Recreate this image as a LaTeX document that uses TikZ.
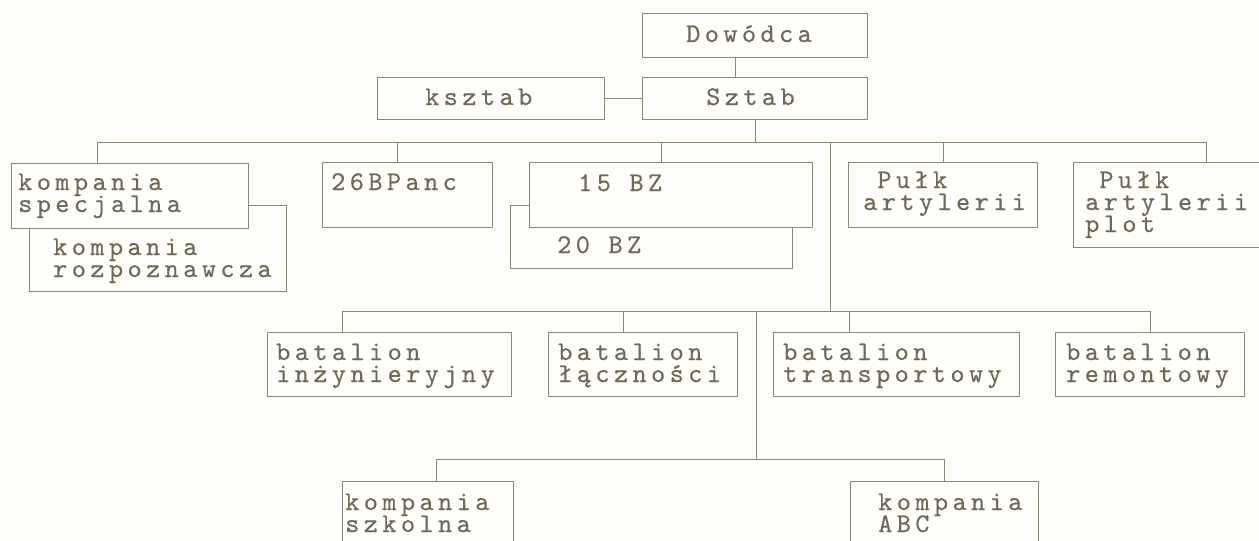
\documentclass[tikz,border=0pt]{standalone}
\usepackage{fontspec}
\newfontfamily\dotfont[LetterSpace=16.3,FakeBold=0.3]{lmmono10-regular.otf}
\definecolor{ink}{RGB}{112,103,86}
\definecolor{rule}{RGB}{140,134,118}
\definecolor{paper}{RGB}{254,254,251}
\setlength{\lineskiplimit}{-30pt}
\tikzset{
  box/.style={draw=rule, line width=0.9pt, fill=paper, anchor=north west,
              inner sep=0pt, outer sep=0pt},
  wire/.style={draw=rule, line width=0.9pt},
  lbl/.style={text=ink, anchor=base west, inner sep=0pt, align=left,
              font=\dotfont\fontsize{27}{22}\selectfont},
}
% unit box: name, left, top, right, bottom
\newcommand\orgbox[5]{%
  \node[box, minimum width={(#4-#2)*1pt}, minimum height={(#5-#3)*1pt}]
    (#1) at (#2,#3) {};}
\begin{document}
\begin{tikzpicture}[x=1pt,y=-1pt]
\useasboundingbox (0,0) rectangle (1259,541);
\fill[paper] (0,0) rectangle (1259,541);
\clip (0,0) rectangle (1259,541);

% command level
\orgbox{dow}{642}{13}{867}{57}
\orgbox{ksz}{377}{77}{604}{119}
\orgbox{szt}{642}{77}{867}{119}

% first row (back boxes first)
\orgbox{roz}{29}{205}{286}{291}
\orgbox{spec}{11}{163}{248}{228}
\orgbox{panc}{322}{162}{492}{227}
\orgbox{bz20}{510}{205}{792}{268}
\orgbox{bz15}{529}{162}{812}{227}
\orgbox{part}{848}{162}{1037}{227}
\orgbox{plot}{1073}{162}{1275}{247}

% battalions
\orgbox{inz}{267}{332}{511}{396}
\orgbox{lacz}{548}{332}{737}{396}
\orgbox{trans}{773}{332}{1019}{396}
\orgbox{rem}{1055}{332}{1244}{396}

% companies
\orgbox{szk}{342}{481}{513}{560}
\orgbox{abc}{850}{481}{1038}{560}

% joints
\coordinate (dj) at (735,0);
\coordinate (s1) at (755,142);
\coordinate (a1) at (97,142);
\coordinate (a2) at (397,142);
\coordinate (a3) at (661,142);
\coordinate (a4) at (943,142);
\coordinate (a5) at (1206,142);
\coordinate (v1) at (830,142);
\coordinate (v2) at (830,311);
\coordinate (b1) at (342,311);
\coordinate (b2) at (623,311);
\coordinate (b3) at (849,311);
\coordinate (b4) at (1150,311);
\coordinate (w1) at (756,311);
\coordinate (w2) at (756,459);
\coordinate (c1) at (436,459);
\coordinate (c2) at (944,459);

% connectors
\draw[wire] (dow.south -| dj) -- (szt.north -| dj);
\draw[wire] (ksz.east) -- (szt.west);
\draw[wire] (szt.south -| s1) -- (s1);
\draw[wire] (a1) -- (a5);
\foreach \c/\n in {a1/spec,a2/panc,a3/bz15,a4/part,a5/plot}
  \draw[wire] (\c) -- (\c |- \n.north);
\draw[wire] (v1) -- (v2);
\draw[wire] (b1) -- (b4);
\foreach \c/\n in {b1/inz,b2/lacz,b3/trans,b4/rem}
  \draw[wire] (\c) -- (\c |- \n.north);
\draw[wire] (w1) -- (w2);
\draw[wire] (c1) -- (c2);
\foreach \c/\n in {c1/szk,c2/abc}
  \draw[wire] (\c) -- (\c |- \n.north);

% labels (anchored on the baseline of their last line)
\node[lbl] (dow-t)   at (686,42)  {Dowódca};
\node[lbl] (ksz-t)   at (425,105) {ksztab};
\node[lbl] (szt-t)   at (706,105) {Sztab};
\node[lbl] (spec-t)  at (18,212)  {kompania\\specjalna};
\node[lbl] (roz-t)   at (53,277)  {kompania\\rozpoznawcza};
\node[lbl] (panc-t)  at (331,190) {26BPanc};
\node[lbl] (bz15-t)  at (578,191) {15 BZ};
\node[lbl] (bz20-t)  at (557,253) {20 BZ};
\node[lbl] (part-t)  at (863,210) {\phantom{P}Pułk\\artylerii};
\node[lbl] (plot-t)  at (1085,232) {\phantom{P}Pułk\\artylerii\\plot};
\node[lbl] (inz-t)   at (276,382) {batalion\\inżynieryjny};
\node[lbl] (lacz-t)  at (558,382) {batalion\\łączności};
\node[lbl] (trans-t) at (783,382) {batalion\\transportowy};
\node[lbl] (rem-t)   at (1066,382) {batalion\\remontowy};
\node[lbl] (szk-t)   at (345,532) {kompania\\szkolna};
\node[lbl] (abc-t)   at (878,532) {kompania\\ABC};
\end{tikzpicture}
\end{document}
